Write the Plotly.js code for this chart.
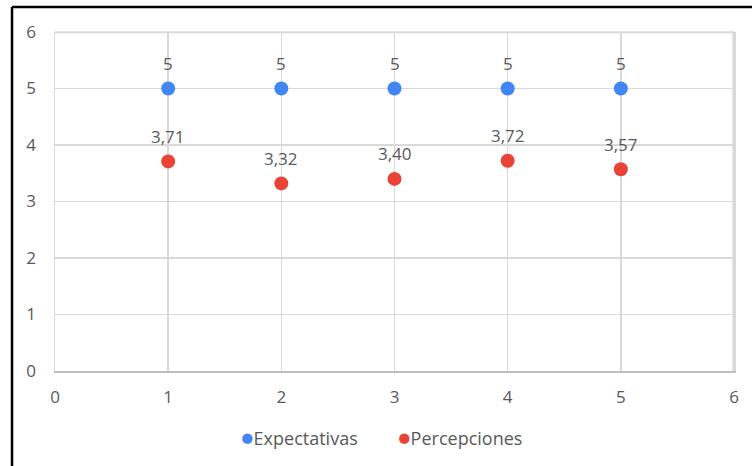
<!DOCTYPE html>
<html>
<head>
<meta charset="utf-8">
<script src="https://cdn.plot.ly/plotly-3.0.1.min.js"></script>
<style>
html,body{margin:0;padding:0;background:#fff;}
#chart{width:752px;height:466px;}
</style>
</head>
<body>
<div id="chart"></div>
<script>
const xValues = [1, 2, 3, 4, 5];
const expectativas = [5, 5, 5, 5, 5];
const percepciones = [3.71, 3.32, 3.40, 3.72, 3.57];
const seriesNames = ["Expectativas", "Percepciones"];
const seriesColors = ["#4285F4", "#EA4335"];
const tickValues = [0, 1, 2, 3, 4, 5, 6];

const FONT = "'Open Sans', Lato, sans-serif";
const TXT = "#595959";

const traces = [
  {x: xValues, y: expectativas, name: seriesNames[0], type: "scatter", mode: "markers",
   marker: {color: seriesColors[0], size: 14}},
  {x: xValues, y: percepciones, name: seriesNames[1], type: "scatter", mode: "markers",
   marker: {color: seriesColors[1], size: 14}}
];

const annotations = [];
xValues.forEach((x, i) => {
  annotations.push({x: x, y: expectativas[i], text: String(expectativas[i]), showarrow: false,
    yshift: 25, font: {family: FONT, size: 17, color: TXT}});
  annotations.push({x: x, y: percepciones[i], text: percepciones[i].toFixed(2).replace(".", ","), showarrow: false,
    yshift: 25, font: {family: FONT, size: 17, color: TXT}});
});
// custom legend
const legendX = [0.271, 0.502];
seriesNames.forEach((n, i) => {
  annotations.push({xref: "paper", yref: "paper", x: legendX[i], y: -0.196, xanchor: "left", yanchor: "middle",
    showarrow: false, text: '<span style="color:' + seriesColors[i] + ';font-size:21px">●</span>' + n,
    font: {family: FONT, size: 18, color: TXT}});
});

const layout = {
  width: 752, height: 466,
  margin: {l: 55, r: 18, t: 32, b: 95},
  paper_bgcolor: "#fff", plot_bgcolor: "#fff",
  separators: ",.",
  font: {family: FONT, size: 17, color: TXT},
  xaxis: {range: [0, 6], tickvals: tickValues, showgrid: true, gridcolor: "#d9d9d9", gridwidth: 1.5,
    zeroline: false, showline: true, linecolor: "#bfbfbf", linewidth: 2,
    ticks: "", ticklabelstandoff: 10, fixedrange: true},
  yaxis: {range: [0, 6], tickvals: tickValues, showgrid: true, gridcolor: "#d9d9d9", gridwidth: 1.5,
    zeroline: false, showline: true, mirror: true, linecolor: "#d9d9d9", linewidth: 1.5,
    ticks: "", ticklabelstandoff: 14, fixedrange: true},
  showlegend: false,
  annotations: annotations,
  shapes: [
    {type: "line", xref: "paper", yref: "paper", x0: 0, x1: 1, y0: 0.999, y1: 0.999, line: {color: "#d9d9d9", width: 2}, layer: "above"},
    {type: "line", xref: "paper", yref: "paper", x0: 0.999, x1: 0.999, y0: 0, y1: 1, line: {color: "#d9d9d9", width: 2}, layer: "above"},
    {type: "line", xref: "paper", yref: "paper", x0: -0.0633, x1: 1.03, y0: 1.0737, y1: 1.0737,
     line: {color: "#000", width: 2.5}},
    {type: "line", xref: "paper", yref: "paper", x0: -0.0633, x1: -0.0633, y0: -0.3, y1: 1.0737,
     line: {color: "#000", width: 2.5}}
  ]
};

Plotly.newPlot("chart", traces, layout, {displayModeBar: false, staticPlot: true});
</script>
</body>
</html>
